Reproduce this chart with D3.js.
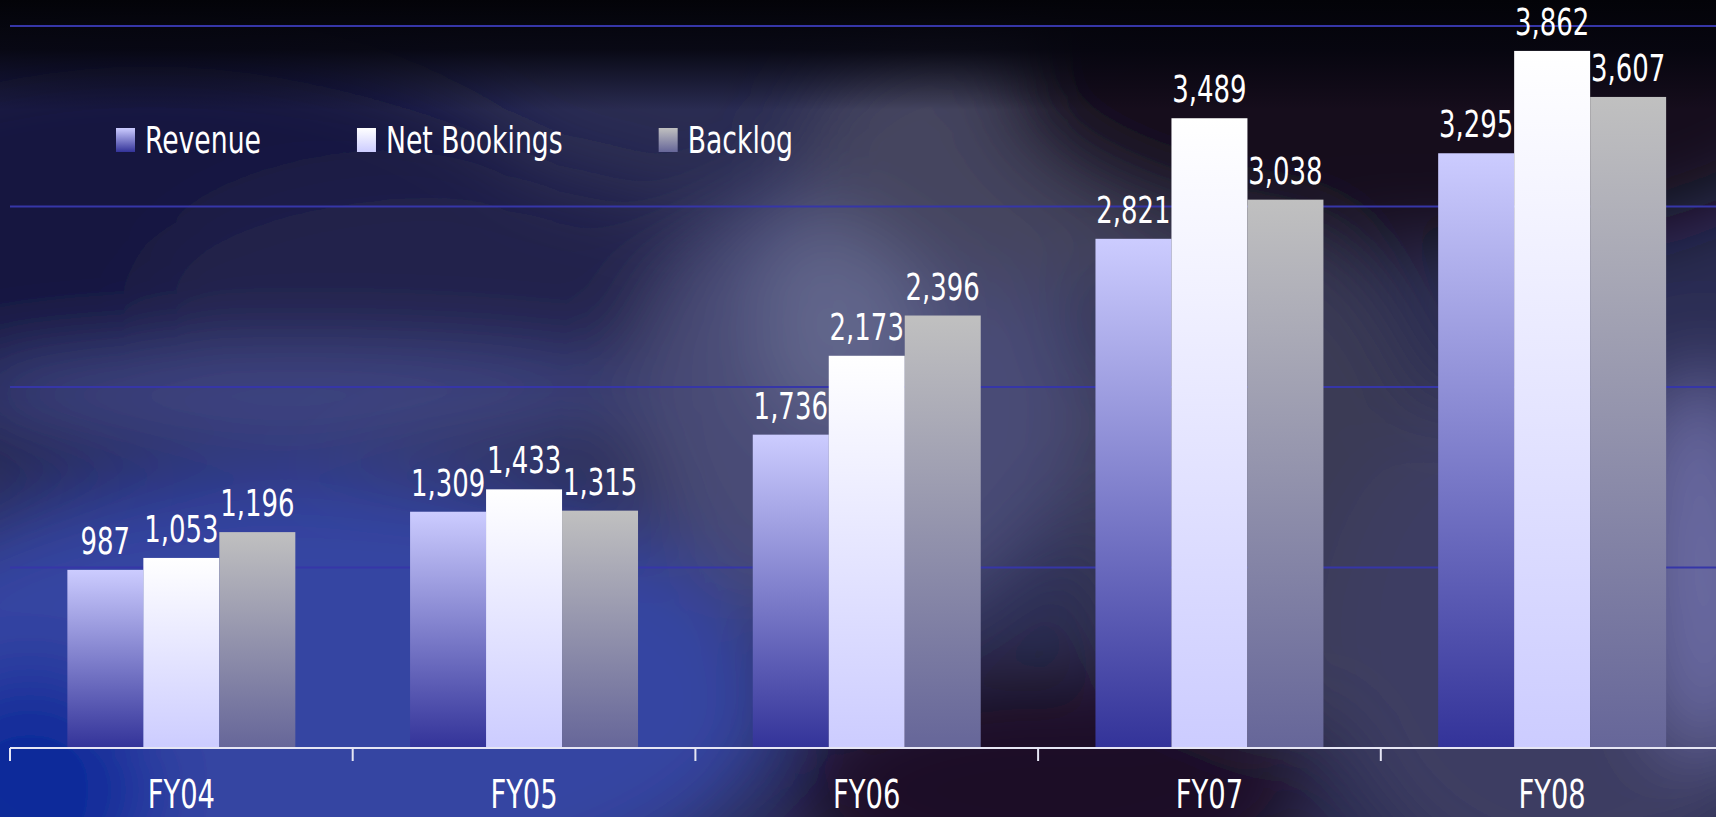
<!DOCTYPE html>
<meta charset="utf-8">
<script src="https://d3js.org/d3.v7.min.js"></script>
<style>
  body { margin: 0; background: #000; overflow: hidden; }
  text { font-family: "DejaVu Sans Condensed", "DejaVu Sans", sans-serif; fill: #fff; }
</style>
<body>
<svg width="1716" height="817"></svg>
<script>
  // data
  var years   = ['FY04', 'FY05', 'FY06', 'FY07', 'FY08'];
  var series  = ['Revenue', 'Net Bookings', 'Backlog'];
  var revenue = [987, 1309, 1736, 2821, 3295];
  var netBook = [1053, 1433, 2173, 3489, 3862];
  var backlog = [1196, 1315, 2396, 3038, 3607];
  var gridTicks = [1000, 2000, 3000, 4000];

  var values = [revenue, netBook, backlog];
  var colors = [['#ccccff', '#333399'], ['#ffffff', '#ccccff'], ['#c0c0c0', '#666699']];
  var sx = 0.78; // slide was squashed horizontally

  var svg = d3.select('svg');
  var defs = svg.append('defs');

  /* ----------- background ----------- */

  defs.append('filter').attr('id', 'blur')
    .attr('x', '-50%').attr('y', '-50%').attr('width', '200%').attr('height', '200%')
    .append('feGaussianBlur').attr('stdDeviation', 40);

  var topFade = defs.append('linearGradient').attr('id', 'topFade')
    .attr('x1', 0).attr('y1', 0).attr('x2', 0).attr('y2', 1);
  topFade.append('stop').attr('offset', 0).attr('stop-color', '#030308').attr('stop-opacity', 1);
  topFade.append('stop').attr('offset', 0.45).attr('stop-color', '#05050e').attr('stop-opacity', 0.9);
  topFade.append('stop').attr('offset', 1).attr('stop-color', '#05050e').attr('stop-opacity', 0);

  svg.append('rect').attr('width', 1716).attr('height', 817).attr('fill', '#2a2c52');

  var blobs = [
    [150, 260, 420, 220, '#13163f'],
    [450, 290, 300, 120, '#20244c'],
    [300, 700, 480, 230, '#3444a2'],
    [30, 790, 120, 120, '#102a9a'],
    [300, 395, 360, 40, '#454c8c'],
    [860, 400, 230, 230, '#484c76'],
    [840, 320, 80, 110, '#62668c'],
    [1060, 150, 260, 140, '#44445e'],
    [1420, 80, 420, 170, '#130a1c'],
    [1260, 480, 180, 250, '#3a3a54'],
    [1050, 790, 260, 120, '#1d0c28'],
    [1560, 640, 240, 260, '#3d3d62'],
    [1705, 560, 60, 200, '#6c6ca4']
  ];

  svg.append('g').attr('filter', 'url(#blur)')
    .selectAll('ellipse').data(blobs).enter().append('ellipse')
    .attr('cx', function(d){ return d[0]; })
    .attr('cy', function(d){ return d[1]; })
    .attr('rx', function(d){ return d[2]; })
    .attr('ry', function(d){ return d[3]; })
    .attr('fill', function(d){ return d[4]; });

  svg.append('rect').attr('width', 1716).attr('height', 110).attr('fill', 'url(#topFade)');

  /* ----------- gradients ----------- */

  colors.forEach(function(c, i){
    var g = defs.append('linearGradient').attr('id', 'g' + i)
      .attr('x1', 0).attr('y1', 0).attr('x2', 0).attr('y2', 1);
    g.append('stop').attr('offset', 0).attr('stop-color', c[0]);
    g.append('stop').attr('offset', 1).attr('stop-color', c[1]);
  });

  /* ----------- scales ----------- */

  var x = d3.scaleBand().domain(years).range([10, 1723.5]);
  var xs = d3.scaleBand().domain(d3.range(series.length))
    .range([0, x.bandwidth()]).paddingOuter(0.755);
  var y = d3.scaleLinear().domain([0, 4000]).range([748, 26]);

  /* ----------- grid ----------- */

  svg.append('g').selectAll('line').data(gridTicks).enter().append('line')
    .attr('x1', 10).attr('x2', 1716)
    .attr('y1', function(d){ return y(d); })
    .attr('y2', function(d){ return y(d); })
    .attr('stroke', '#3636a8').attr('stroke-width', 2);

  /* ----------- bars ----------- */

  var groups = svg.append('g').selectAll('g').data(years).enter().append('g')
    .attr('transform', function(d){ return 'translate(' + x(d) + ',0)'; });

  groups.selectAll('rect')
    .data(function(d, j){ return values.map(function(v, i){ return {s: i, v: v[j]}; }); })
    .enter().append('rect')
    .attr('x', function(d){ return xs(d.s); })
    .attr('width', xs.bandwidth())
    .attr('y', function(d){ return y(d.v); })
    .attr('height', function(d){ return y(0) - y(d.v); })
    .attr('fill', function(d){ return 'url(#g' + d.s + ')'; });

  groups.selectAll('text')
    .data(function(d, j){ return values.map(function(v, i){ return {s: i, v: v[j]}; }); })
    .enter().append('text')
    .attr('text-anchor', 'middle')
    .attr('font-size', 37)
    .attr('transform', function(d){
      return 'translate(' + (xs(d.s) + xs.bandwidth() / 2) + ',' + (y(d.v) - 16) + ') scale(' + sx + ',1)';
    })
    .text(function(d){ return d3.format(',')(d.v); });

  /* ----------- axis ----------- */

  var axis = svg.append('g');
  axis.append('line').attr('x1', 10).attr('x2', 1716).attr('y1', 748).attr('y2', 748)
    .attr('stroke', '#e6e6f4').attr('stroke-width', 2);
  axis.selectAll('line.tick').data(years).enter().append('line')
    .attr('class', 'tick')
    .attr('x1', function(d){ return x(d); }).attr('x2', function(d){ return x(d); })
    .attr('y1', 748).attr('y2', 761)
    .attr('stroke', '#e6e6f4').attr('stroke-width', 2);
  axis.selectAll('text').data(years).enter().append('text')
    .attr('text-anchor', 'middle')
    .attr('font-size', 39)
    .attr('transform', function(d){
      return 'translate(' + (x(d) + x.bandwidth() / 2) + ',808) scale(' + sx + ',1)';
    })
    .text(function(d){ return d; });

  /* ----------- legend ----------- */

  var lx = 116;
  series.forEach(function(s, i){
    var item = svg.append('g').attr('transform', 'translate(' + lx + ',0)');
    item.append('rect').attr('x', 0).attr('y', 128).attr('width', 19).attr('height', 24)
      .attr('fill', 'url(#g' + i + ')');
    var t = item.append('text').attr('font-size', 38)
      .attr('transform', 'translate(29,153) scale(' + sx + ',1)')
      .text(s);
    lx += 29 + t.node().getComputedTextLength() * sx + 96;
  });
</script>
</body>
